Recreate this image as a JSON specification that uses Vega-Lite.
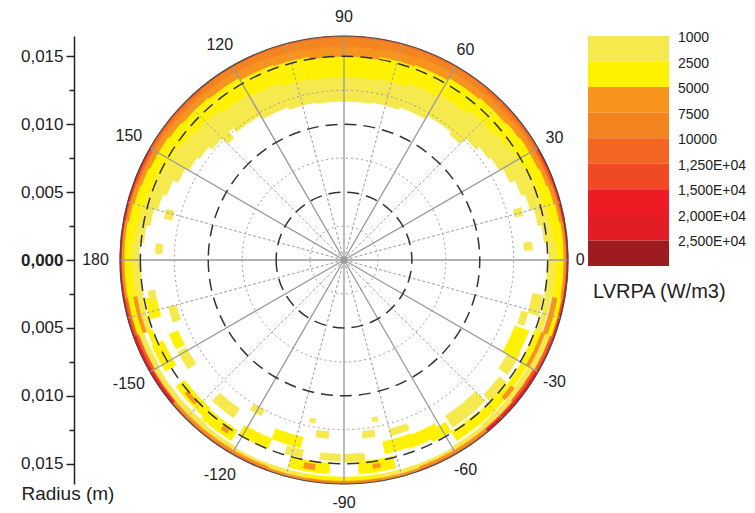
{
"$schema": "https://vega.github.io/schema/vega-lite/v6.json",
"padding": {"left": 20, "top": 8, "right": 5, "bottom": 5},
"background": "white",
"bounds": "flush",
"spacing": 14,
"config": {"font": "Liberation Sans", "view": {"stroke": null}},
"datasets": {
"cells": [
{"a0":0,"a1":5,"r0":0.0151,"r1":0.0157,"v":1000},{"a0":0,"a1":5,"r0":0.0157,"r1":0.0162,"v":2500},{"a0":0,"a1":5,"r0":0.0162,"r1":0.0164,"v":5000},{"a0":0,"a1":5,"r0":0.0164,"r1":0.0165,"v":15000},
{"a0":5,"a1":10,"r0":0.0148,"r1":0.0155,"v":1000},{"a0":5,"a1":10,"r0":0.0155,"r1":0.0162,"v":2500},{"a0":5,"a1":10,"r0":0.0162,"r1":0.0164,"v":5000},{"a0":5,"a1":10,"r0":0.0164,"r1":0.0165,"v":15000},
{"a0":10,"a1":15,"r0":0.0145,"r1":0.0154,"v":1000},{"a0":10,"a1":15,"r0":0.0154,"r1":0.0161,"v":2500},{"a0":10,"a1":15,"r0":0.0161,"r1":0.0163,"v":5000},{"a0":10,"a1":15,"r0":0.0163,"r1":0.0164,"v":10000},{"a0":10,"a1":15,"r0":0.0164,"r1":0.0165,"v":15000},
{"a0":15,"a1":20,"r0":0.0142,"r1":0.0152,"v":1000},{"a0":15,"a1":20,"r0":0.0152,"r1":0.0160,"v":2500},{"a0":15,"a1":20,"r0":0.0160,"r1":0.0163,"v":5000},{"a0":15,"a1":20,"r0":0.0163,"r1":0.0164,"v":10000},{"a0":15,"a1":20,"r0":0.0164,"r1":0.0165,"v":15000},
{"a0":20,"a1":25,"r0":0.0139,"r1":0.0151,"v":1000},{"a0":20,"a1":25,"r0":0.0151,"r1":0.0159,"v":2500},{"a0":20,"a1":25,"r0":0.0159,"r1":0.0162,"v":5000},{"a0":20,"a1":25,"r0":0.0162,"r1":0.0164,"v":10000},{"a0":20,"a1":25,"r0":0.0164,"r1":0.0165,"v":15000},
{"a0":25,"a1":30,"r0":0.0135,"r1":0.0149,"v":1000},{"a0":25,"a1":30,"r0":0.0149,"r1":0.0158,"v":2500},{"a0":25,"a1":30,"r0":0.0158,"r1":0.0162,"v":5000},{"a0":25,"a1":30,"r0":0.0162,"r1":0.0164,"v":10000},{"a0":25,"a1":30,"r0":0.0164,"r1":0.0165,"v":15000},
{"a0":30,"a1":35,"r0":0.0132,"r1":0.0148,"v":1000},{"a0":30,"a1":35,"r0":0.0148,"r1":0.0158,"v":2500},{"a0":30,"a1":35,"r0":0.0158,"r1":0.0161,"v":5000},{"a0":30,"a1":35,"r0":0.0161,"r1":0.0163,"v":7500},{"a0":30,"a1":35,"r0":0.0163,"r1":0.0165,"v":10000},
{"a0":35,"a1":40,"r0":0.0130,"r1":0.0146,"v":1000},{"a0":35,"a1":40,"r0":0.0146,"r1":0.0157,"v":2500},{"a0":35,"a1":40,"r0":0.0157,"r1":0.0161,"v":5000},{"a0":35,"a1":40,"r0":0.0161,"r1":0.0163,"v":7500},{"a0":35,"a1":40,"r0":0.0163,"r1":0.0165,"v":10000},
{"a0":40,"a1":50,"r0":0.0127,"r1":0.0144,"v":1000},{"a0":40,"a1":50,"r0":0.0144,"r1":0.0156,"v":2500},{"a0":40,"a1":50,"r0":0.0156,"r1":0.0160,"v":5000},{"a0":40,"a1":50,"r0":0.0160,"r1":0.0163,"v":7500},{"a0":40,"a1":50,"r0":0.0163,"r1":0.0165,"v":10000},
{"a0":50,"a1":60,"r0":0.0123,"r1":0.0141,"v":1000},{"a0":50,"a1":60,"r0":0.0141,"r1":0.0155,"v":2500},{"a0":50,"a1":60,"r0":0.0155,"r1":0.0160,"v":5000},{"a0":50,"a1":60,"r0":0.0160,"r1":0.0164,"v":7500},{"a0":50,"a1":60,"r0":0.0164,"r1":0.0165,"v":10000},
{"a0":60,"a1":70,"r0":0.0120,"r1":0.0139,"v":1000},{"a0":60,"a1":70,"r0":0.0139,"r1":0.0153,"v":2500},{"a0":60,"a1":70,"r0":0.0153,"r1":0.0159,"v":5000},{"a0":60,"a1":70,"r0":0.0159,"r1":0.0164,"v":7500},{"a0":60,"a1":70,"r0":0.0164,"r1":0.0165,"v":10000},
{"a0":70,"a1":80,"r0":0.0118,"r1":0.0136,"v":1000},{"a0":70,"a1":80,"r0":0.0136,"r1":0.0152,"v":2500},{"a0":70,"a1":80,"r0":0.0152,"r1":0.0158,"v":5000},{"a0":70,"a1":80,"r0":0.0158,"r1":0.0164,"v":7500},{"a0":70,"a1":80,"r0":0.0164,"r1":0.0165,"v":10000},
{"a0":80,"a1":90,"r0":0.0117,"r1":0.0135,"v":1000},{"a0":80,"a1":90,"r0":0.0135,"r1":0.0150,"v":2500},{"a0":80,"a1":90,"r0":0.0150,"r1":0.0157,"v":5000},{"a0":80,"a1":90,"r0":0.0157,"r1":0.0164,"v":7500},{"a0":80,"a1":90,"r0":0.0164,"r1":0.0165,"v":10000},
{"a0":90,"a1":100,"r0":0.0117,"r1":0.0135,"v":1000},{"a0":90,"a1":100,"r0":0.0135,"r1":0.0150,"v":2500},{"a0":90,"a1":100,"r0":0.0150,"r1":0.0157,"v":5000},{"a0":90,"a1":100,"r0":0.0157,"r1":0.0164,"v":7500},{"a0":90,"a1":100,"r0":0.0164,"r1":0.0165,"v":10000},
{"a0":100,"a1":110,"r0":0.0118,"r1":0.0136,"v":1000},{"a0":100,"a1":110,"r0":0.0136,"r1":0.0152,"v":2500},{"a0":100,"a1":110,"r0":0.0152,"r1":0.0158,"v":5000},{"a0":100,"a1":110,"r0":0.0158,"r1":0.0164,"v":7500},{"a0":100,"a1":110,"r0":0.0164,"r1":0.0165,"v":10000},
{"a0":110,"a1":120,"r0":0.0120,"r1":0.0139,"v":1000},{"a0":110,"a1":120,"r0":0.0139,"r1":0.0153,"v":2500},{"a0":110,"a1":120,"r0":0.0153,"r1":0.0159,"v":5000},{"a0":110,"a1":120,"r0":0.0159,"r1":0.0164,"v":7500},{"a0":110,"a1":120,"r0":0.0164,"r1":0.0165,"v":10000},
{"a0":120,"a1":130,"r0":0.0123,"r1":0.0141,"v":1000},{"a0":120,"a1":130,"r0":0.0141,"r1":0.0155,"v":2500},{"a0":120,"a1":130,"r0":0.0155,"r1":0.0160,"v":5000},{"a0":120,"a1":130,"r0":0.0160,"r1":0.0164,"v":7500},{"a0":120,"a1":130,"r0":0.0164,"r1":0.0165,"v":10000},
{"a0":130,"a1":140,"r0":0.0127,"r1":0.0144,"v":1000},{"a0":130,"a1":140,"r0":0.0144,"r1":0.0156,"v":2500},{"a0":130,"a1":140,"r0":0.0156,"r1":0.0160,"v":5000},{"a0":130,"a1":140,"r0":0.0160,"r1":0.0163,"v":7500},{"a0":130,"a1":140,"r0":0.0163,"r1":0.0165,"v":10000},
{"a0":140,"a1":145,"r0":0.0130,"r1":0.0146,"v":1000},{"a0":140,"a1":145,"r0":0.0146,"r1":0.0157,"v":2500},{"a0":140,"a1":145,"r0":0.0157,"r1":0.0161,"v":5000},{"a0":140,"a1":145,"r0":0.0161,"r1":0.0163,"v":7500},{"a0":140,"a1":145,"r0":0.0163,"r1":0.0165,"v":10000},
{"a0":145,"a1":150,"r0":0.0132,"r1":0.0148,"v":1000},{"a0":145,"a1":150,"r0":0.0148,"r1":0.0158,"v":2500},{"a0":145,"a1":150,"r0":0.0158,"r1":0.0161,"v":5000},{"a0":145,"a1":150,"r0":0.0161,"r1":0.0163,"v":7500},{"a0":145,"a1":150,"r0":0.0163,"r1":0.0165,"v":10000},
{"a0":150,"a1":155,"r0":0.0135,"r1":0.0149,"v":1000},{"a0":150,"a1":155,"r0":0.0149,"r1":0.0158,"v":2500},{"a0":150,"a1":155,"r0":0.0158,"r1":0.0162,"v":5000},{"a0":150,"a1":155,"r0":0.0162,"r1":0.0164,"v":10000},{"a0":150,"a1":155,"r0":0.0164,"r1":0.0165,"v":15000},
{"a0":155,"a1":160,"r0":0.0139,"r1":0.0151,"v":1000},{"a0":155,"a1":160,"r0":0.0151,"r1":0.0159,"v":2500},{"a0":155,"a1":160,"r0":0.0159,"r1":0.0162,"v":5000},{"a0":155,"a1":160,"r0":0.0162,"r1":0.0164,"v":10000},{"a0":155,"a1":160,"r0":0.0164,"r1":0.0165,"v":15000},
{"a0":160,"a1":165,"r0":0.0142,"r1":0.0152,"v":1000},{"a0":160,"a1":165,"r0":0.0152,"r1":0.0160,"v":2500},{"a0":160,"a1":165,"r0":0.0160,"r1":0.0163,"v":5000},{"a0":160,"a1":165,"r0":0.0163,"r1":0.0164,"v":10000},{"a0":160,"a1":165,"r0":0.0164,"r1":0.0165,"v":15000},
{"a0":165,"a1":170,"r0":0.0145,"r1":0.0154,"v":1000},{"a0":165,"a1":170,"r0":0.0154,"r1":0.0161,"v":2500},{"a0":165,"a1":170,"r0":0.0161,"r1":0.0163,"v":5000},{"a0":165,"a1":170,"r0":0.0163,"r1":0.0164,"v":10000},{"a0":165,"a1":170,"r0":0.0164,"r1":0.0165,"v":15000},
{"a0":170,"a1":175,"r0":0.0148,"r1":0.0155,"v":1000},{"a0":170,"a1":175,"r0":0.0155,"r1":0.0162,"v":2500},{"a0":170,"a1":175,"r0":0.0162,"r1":0.0164,"v":5000},{"a0":170,"a1":175,"r0":0.0164,"r1":0.0165,"v":15000},
{"a0":175,"a1":180,"r0":0.0151,"r1":0.0157,"v":1000},{"a0":175,"a1":180,"r0":0.0157,"r1":0.0162,"v":2500},{"a0":175,"a1":180,"r0":0.0162,"r1":0.0164,"v":5000},{"a0":175,"a1":180,"r0":0.0164,"r1":0.0165,"v":15000},
{"a0":-180,"a1":-170,"r0":0.0150,"r1":0.0156,"v":1000},{"a0":-180,"a1":-170,"r0":0.0156,"r1":0.0162,"v":2500},{"a0":-180,"a1":-170,"r0":0.0162,"r1":0.0164,"v":5000},{"a0":-180,"a1":-170,"r0":0.0164,"r1":0.0165,"v":15000},
{"a0":-170,"a1":-160,"r0":0.0151,"r1":0.0155,"v":1000},{"a0":-170,"a1":-160,"r0":0.0155,"r1":0.0158,"v":5000},{"a0":-170,"a1":-160,"r0":0.0158,"r1":0.0162,"v":2500},{"a0":-170,"a1":-160,"r0":0.0162,"r1":0.0164,"v":10000},{"a0":-170,"a1":-160,"r0":0.0164,"r1":0.0165,"v":15000},
{"a0":-160,"a1":-150,"r0":0.0150,"r1":0.0154,"v":2500},{"a0":-160,"a1":-150,"r0":0.0157,"r1":0.0161,"v":1000},{"a0":-160,"a1":-150,"r0":0.0161,"r1":0.0163,"v":10000},{"a0":-160,"a1":-150,"r0":0.0163,"r1":0.0165,"v":15000},
{"a0":-150,"a1":-140,"r0":0.0158,"r1":0.0162,"v":1000},{"a0":-150,"a1":-140,"r0":0.0162,"r1":0.0163,"v":10000},{"a0":-150,"a1":-140,"r0":0.0163,"r1":0.0165,"v":15000},
{"a0":-140,"a1":-130,"r0":0.0158,"r1":0.0162,"v":1000},{"a0":-140,"a1":-130,"r0":0.0162,"r1":0.0164,"v":5000},{"a0":-140,"a1":-130,"r0":0.0164,"r1":0.0165,"v":10000},
{"a0":-130,"a1":-120,"r0":0.0159,"r1":0.0162,"v":1000},{"a0":-130,"a1":-120,"r0":0.0162,"r1":0.0164,"v":5000},{"a0":-130,"a1":-120,"r0":0.0164,"r1":0.0165,"v":10000},
{"a0":-120,"a1":-110,"r0":0.0160,"r1":0.0162,"v":1000},{"a0":-120,"a1":-110,"r0":0.0162,"r1":0.0164,"v":5000},{"a0":-120,"a1":-110,"r0":0.0164,"r1":0.0165,"v":10000},
{"a0":-110,"a1":-100,"r0":0.0160,"r1":0.0163,"v":1000},{"a0":-110,"a1":-100,"r0":0.0163,"r1":0.0165,"v":5000},
{"a0":-100,"a1":-90,"r0":0.0160,"r1":0.0163,"v":2500},{"a0":-100,"a1":-90,"r0":0.0163,"r1":0.0165,"v":7500},
{"a0":-90,"a1":-80,"r0":0.0160,"r1":0.0163,"v":2500},{"a0":-90,"a1":-80,"r0":0.0163,"r1":0.0165,"v":7500},
{"a0":-80,"a1":-70,"r0":0.0160,"r1":0.0163,"v":1000},{"a0":-80,"a1":-70,"r0":0.0163,"r1":0.0165,"v":5000},
{"a0":-70,"a1":-60,"r0":0.0160,"r1":0.0162,"v":1000},{"a0":-70,"a1":-60,"r0":0.0162,"r1":0.0164,"v":5000},{"a0":-70,"a1":-60,"r0":0.0164,"r1":0.0165,"v":10000},
{"a0":-60,"a1":-50,"r0":0.0159,"r1":0.0162,"v":1000},{"a0":-60,"a1":-50,"r0":0.0162,"r1":0.0164,"v":5000},{"a0":-60,"a1":-50,"r0":0.0164,"r1":0.0165,"v":10000},
{"a0":-50,"a1":-40,"r0":0.0150,"r1":0.0157,"v":2500},{"a0":-50,"a1":-40,"r0":0.0158,"r1":0.0162,"v":1000},{"a0":-50,"a1":-40,"r0":0.0162,"r1":0.0163,"v":10000},{"a0":-50,"a1":-40,"r0":0.0163,"r1":0.0165,"v":15000},
{"a0":-40,"a1":-30,"r0":0.0151,"r1":0.0156,"v":2500},{"a0":-40,"a1":-30,"r0":0.0157,"r1":0.0161,"v":1000},{"a0":-40,"a1":-30,"r0":0.0161,"r1":0.0163,"v":10000},{"a0":-40,"a1":-30,"r0":0.0163,"r1":0.0165,"v":15000},
{"a0":-30,"a1":-20,"r0":0.0150,"r1":0.0155,"v":2500},{"a0":-30,"a1":-20,"r0":0.0155,"r1":0.0158,"v":5000},{"a0":-30,"a1":-20,"r0":0.0158,"r1":0.0162,"v":1000},{"a0":-30,"a1":-20,"r0":0.0162,"r1":0.0164,"v":10000},{"a0":-30,"a1":-20,"r0":0.0164,"r1":0.0165,"v":15000},
{"a0":-20,"a1":-10,"r0":0.0151,"r1":0.0155,"v":1000},{"a0":-20,"a1":-10,"r0":0.0156,"r1":0.0160,"v":5000},{"a0":-20,"a1":-10,"r0":0.0160,"r1":0.0163,"v":2500},{"a0":-20,"a1":-10,"r0":0.0163,"r1":0.0164,"v":10000},{"a0":-20,"a1":-10,"r0":0.0164,"r1":0.0165,"v":15000},
{"a0":-10,"a1":0,"r0":0.0150,"r1":0.0156,"v":1000},{"a0":-10,"a1":0,"r0":0.0156,"r1":0.0162,"v":2500},{"a0":-10,"a1":0,"r0":0.0162,"r1":0.0164,"v":5000},{"a0":-10,"a1":0,"r0":0.0164,"r1":0.0165,"v":15000},
{"a0":-169,"a1":-163,"r0":0.0141,"r1":0.0149,"v":2500},
{"a0":-165,"a1":-160,"r0":0.0128,"r1":0.0134,"v":1000},
{"a0":-171,"a1":-168,"r0":0.0141,"r1":0.0146,"v":1000},
{"a0":-157,"a1":-152,"r0":0.0133,"r1":0.0140,"v":2500},
{"a0":-151,"a1":-145,"r0":0.0133,"r1":0.0140,"v":1000},
{"a0":-156,"a1":-148,"r0":0.0146,"r1":0.0155,"v":2500},
{"a0":-143,"a1":-132,"r0":0.0147,"r1":0.0155,"v":2500},
{"a0":-133,"a1":-125,"r0":0.0134,"r1":0.0142,"v":1000},
{"a0":-132,"a1":-122,"r0":0.0148,"r1":0.0157,"v":2500},
{"a0":-122,"a1":-118,"r0":0.0125,"r1":0.0130,"v":1000},
{"a0":-121,"a1":-112,"r0":0.0142,"r1":0.0150,"v":2500},
{"a0":-112,"a1":-103,"r0":0.0134,"r1":0.0142,"v":2500},
{"a0":-107,"a1":-102,"r0":0.0143,"r1":0.0149,"v":1000},
{"a0":-105,"a1":-94,"r0":0.0150,"r1":0.0158,"v":2500},
{"a0":-99,"a1":-95,"r0":0.0127,"r1":0.0132,"v":1000},
{"a0":-102,"a1":-100,"r0":0.0119,"r1":0.0122,"v":1000},
{"a0":-97,"a1":-91,"r0":0.0143,"r1":0.0148,"v":1000},
{"a0":-90,"a1":-84,"r0":0.0143,"r1":0.0149,"v":1000},
{"a0":-86,"a1":-76,"r0":0.0149,"r1":0.0158,"v":2500},
{"a0":-84,"a1":-80,"r0":0.0127,"r1":0.0132,"v":1000},
{"a0":-80,"a1":-78,"r0":0.0118,"r1":0.0121,"v":1000},
{"a0":-78,"a1":-69,"r0":0.0137,"r1":0.0146,"v":2500},
{"a0":-75,"a1":-69,"r0":0.0129,"r1":0.0134,"v":1000},
{"a0":-71,"a1":-61,"r0":0.0138,"r1":0.0147,"v":2500},
{"a0":-64,"a1":-58,"r0":0.0141,"r1":0.0149,"v":2500},
{"a0":-58,"a1":-50,"r0":0.0149,"r1":0.0157,"v":2500},
{"a0":-57,"a1":-45,"r0":0.0137,"r1":0.0147,"v":1000},
{"a0":-44,"a1":-37,"r0":0.0143,"r1":0.0150,"v":1000},
{"a0":-35,"a1":-28,"r0":0.0139,"r1":0.0147,"v":1000},
{"a0":-30,"a1":-21,"r0":0.0135,"r1":0.0146,"v":2500},
{"a0":-20,"a1":-16,"r0":0.0136,"r1":0.0141,"v":1000},
{"a0":-16,"a1":-10,"r0":0.0141,"r1":0.0149,"v":1000},
{"a0":132,"a1":135,"r0":0.0121,"r1":0.0127,"v":1000},
{"a0":164,"a1":167,"r0":0.0130,"r1":0.0136,"v":1000},
{"a0":175,"a1":178,"r0":0.0134,"r1":0.0139,"v":1000},
{"a0":45,"a1":50,"r0":0.0121,"r1":0.0127,"v":1000},
{"a0":14,"a1":16.5,"r0":0.0130,"r1":0.0136,"v":1000},
{"a0":3,"a1":5.5,"r0":0.0133,"r1":0.0139,"v":1000},
{"a0":-140,"a1":-136,"r0":0.0150,"r1":0.0153,"v":5000},
{"a0":-126,"a1":-124,"r0":0.0151,"r1":0.0154,"v":5000},
{"a0":-101,"a1":-98,"r0":0.0152,"r1":0.0156,"v":5000},
{"a0":-82,"a1":-80,"r0":0.0152,"r1":0.0155,"v":5000},
{"a0":-41,"a1":-37,"r0":0.0154,"r1":0.0157,"v":5000}
],
"circles": [
{"r":0.0025,"k":"dot"},{"r":0.0075,"k":"dot"},{"r":0.0125,"k":"dot"},
{"r":0.005,"k":"dash"},{"r":0.01,"k":"dash"},{"r":0.015,"k":"dash"},
{"r":0.0165,"k":"edge"}
],
"spokes": [
{"ang":0,"k":"solid"},{"ang":30,"k":"solid"},{"ang":60,"k":"solid"},{"ang":90,"k":"solid"},{"ang":120,"k":"solid"},{"ang":150,"k":"solid"},
{"ang":180,"k":"solid"},{"ang":-30,"k":"solid"},{"ang":-60,"k":"solid"},{"ang":-90,"k":"solid"},{"ang":-120,"k":"solid"},{"ang":-150,"k":"solid"},
{"ang":15,"k":"dot"},{"ang":45,"k":"dot"},{"ang":75,"k":"dot"},{"ang":105,"k":"dot"},{"ang":135,"k":"dot"},{"ang":165,"k":"dot"},
{"ang":-15,"k":"dot"},{"ang":-45,"k":"dot"},{"ang":-75,"k":"dot"},{"ang":-105,"k":"dot"},{"ang":-135,"k":"dot"},{"ang":-165,"k":"dot"}
],
"labels": [
{"ang":0,"t":"0"},{"ang":30,"t":"30"},{"ang":60,"t":"60"},{"ang":90,"t":"90"},{"ang":120,"t":"120"},{"ang":150,"t":"150"},
{"ang":180,"t":"180"},{"ang":-30,"t":"-30"},{"ang":-60,"t":"-60"},{"ang":-90,"t":"-90"},{"ang":-120,"t":"-120"},{"ang":-150,"t":"-150"}
],
"legend": [
{"lab":"1000","v":1000},{"lab":"2500","v":2500},{"lab":"5000","v":5000},{"lab":"7500","v":7500},{"lab":"10000","v":10000},
{"lab":"1,250E+04","v":12500},{"lab":"1,500E+04","v":15000},{"lab":"2,000E+04","v":20000},{"lab":"2,500E+04","v":25000}
]
},
"hconcat": [
{
"width": 500,
"height": 448,
"encoding": {
"x": {"datum": 0, "type": "quantitative", "scale": {"domain": [-0.0198884, 0.016942], "nice": false, "zero": false}, "axis": null},
"y": {"datum": 0, "type": "quantitative", "scale": {"domain": [-0.0165, 0.0165], "nice": false, "zero": false},
 "axis": {
  "values": [-0.015,-0.0125,-0.01,-0.0075,-0.005,-0.0025,0,0.0025,0.005,0.0075,0.01,0.0125,0.015],
  "labelExpr": "round(abs(datum.value)*400) % 2 == 0 ? replace(format(abs(datum.value), '.3f'), '.', ',') : ''",
  "tickSize": {"condition": {"test": "round(abs(datum.value)*400) % 2 == 1", "value": 5}, "value": 8},
  "labelFontWeight": {"condition": {"test": "datum.value == 0", "value": "bold"}, "value": "normal"},
  "grid": false,
  "domainColor": "#222", "domainWidth": 1.5,
  "tickColor": "#222", "tickWidth": 1.5,
  "labelFontSize": 17, "labelColor": "#222", "labelPadding": 3,
  "title": "Radius (m)", "titleAngle": 0, "titleX": -53, "titleY": 457,
  "titleAlign": "left", "titleBaseline": "middle",
  "titleFontSize": 19, "titleFontWeight": "normal", "titleColor": "#222"
 }
}
},
"layer": [
{
"data": {"name": "cells"},
"mark": {"type": "arc", "strokeWidth": 0.6},
"encoding": {
"theta": {"field": "a0", "type": "quantitative", "stack": null, "scale": {"domain": [-180, 180], "range": [4.71238898, -1.57079633]}},
"theta2": {"field": "a1"},
"radius": {"field": "r1", "type": "quantitative", "stack": null, "scale": {"type": "linear", "domain": [0, 0.0165], "range": [0, 224], "zero": true, "nice": false}},
"radius2": {"field": "r0"},
"color": {"field": "v", "type": "ordinal", "legend": null, "scale": {"domain": [1000,2500,5000,7500,10000,12500,15000,20000,25000], "range": ["#F5E94E","#FFF200","#F7941D","#F4841F","#F26522","#EF4A23","#ED1C24","#E21D25","#9E1B1F"]}},
"stroke": {"field": "v", "type": "ordinal", "legend": null, "scale": {"domain": [1000,2500,5000,7500,10000,12500,15000,20000,25000], "range": ["#F5E94E","#FFF200","#F7941D","#F4841F","#F26522","#EF4A23","#ED1C24","#E21D25","#9E1B1F"]}}
}
},
{
"data": {"name": "circles"},
"transform": [{"filter": "datum.k == 'dot'"}],
"mark": {"type": "arc", "filled": false, "stroke": "#9a9a9a", "strokeWidth": 1, "strokeDash": [2, 3]},
"encoding": {
"theta": {"datum": -180, "type": "quantitative"},
"theta2": {"datum": 180},
"radius": {"field": "r", "type": "quantitative", "stack": null}
}
},
{
"data": {"name": "spokes"},
"transform": [{"filter": "datum.k == 'dot'"}],
"mark": {"type": "arc", "filled": false, "stroke": "#a8a8a8", "strokeWidth": 1, "strokeDash": [2, 3]},
"encoding": {
"theta": {"field": "ang", "type": "quantitative", "stack": null},
"theta2": {"field": "ang"},
"radius": {"datum": 0.0165, "type": "quantitative"}
}
},
{
"data": {"name": "spokes"},
"transform": [{"filter": "datum.k == 'solid'"}],
"mark": {"type": "arc", "filled": false, "stroke": "#999999", "strokeWidth": 1.3},
"encoding": {
"theta": {"field": "ang", "type": "quantitative", "stack": null},
"theta2": {"field": "ang"},
"radius": {"datum": 0.0165, "type": "quantitative"}
}
},
{
"data": {"name": "circles"},
"transform": [{"filter": "datum.k == 'dash'"}],
"mark": {"type": "arc", "filled": false, "stroke": "#333333", "strokeWidth": 1.5, "strokeDash": [12, 7]},
"encoding": {
"theta": {"datum": -180, "type": "quantitative"},
"theta2": {"datum": 180},
"radius": {"field": "r", "type": "quantitative", "stack": null}
}
},
{
"data": {"name": "circles"},
"transform": [{"filter": "datum.k == 'edge'"}],
"mark": {"type": "arc", "filled": false, "stroke": "#4a4a4a", "strokeWidth": 1.2},
"encoding": {
"theta": {"datum": -180, "type": "quantitative"},
"theta2": {"datum": 180},
"radius": {"field": "r", "type": "quantitative", "stack": null}
}
},
{
"data": {"name": "labels"},
"transform": [{"filter": "abs(datum.ang) > 90"}],
"mark": {"type": "text", "fontSize": 16, "color": "#222"},
"encoding": {
"theta": {"field": "ang", "type": "quantitative", "stack": null},
"radius": {"datum": 0.0183, "type": "quantitative"},
"text": {"field": "t"}
}
},
{
"data": {"name": "labels"},
"transform": [{"filter": "abs(datum.ang) <= 90 && datum.ang != 0"}],
"mark": {"type": "text", "fontSize": 16, "color": "#222"},
"encoding": {
"theta": {"field": "ang", "type": "quantitative", "stack": null},
"radius": {"datum": 0.0179, "type": "quantitative"},
"text": {"field": "t"}
}
},
{
"data": {"name": "labels"},
"transform": [{"filter": "datum.ang == 0"}],
"mark": {"type": "text", "fontSize": 16, "color": "#222"},
"encoding": {
"theta": {"field": "ang", "type": "quantitative", "stack": null},
"radius": {"datum": 0.0174, "type": "quantitative"},
"text": {"field": "t"}
}
}
]
},
{
"width": 81,
"height": 230,
"data": {"name": "legend"},
"title": {"text": "LVRPA (W/m3)", "orient": "bottom", "anchor": "start", "offset": 16, "fontSize": 20, "fontWeight": "normal", "color": "#222", "dx": 5},
"encoding": {
"y": {"field": "lab", "type": "ordinal", "sort": null, "axis": null, "scale": {"paddingInner": 0, "paddingOuter": 0}}
},
"layer": [
{
"mark": {"type": "rect"},
"encoding": {
"color": {"field": "v", "type": "ordinal", "legend": null, "scale": {"domain": [1000,2500,5000,7500,10000,12500,15000,20000,25000], "range": ["#F5E94E","#FFF200","#F7941D","#F4841F","#F26522","#EF4A23","#ED1C24","#E21D25","#9E1B1F"]}}
}
},
{
"mark": {"type": "text", "align": "left", "baseline": "middle", "dx": 9, "dy": 2, "fontSize": 14, "color": "#222"},
"encoding": {
"y": {"field": "lab", "type": "ordinal", "sort": null, "bandPosition": 0, "axis": null},
"x": {"datum": 1, "type": "quantitative", "scale": {"domain": [0, 1], "nice": false}, "axis": null},
"text": {"field": "lab"}
}
}
]
}
]
}
